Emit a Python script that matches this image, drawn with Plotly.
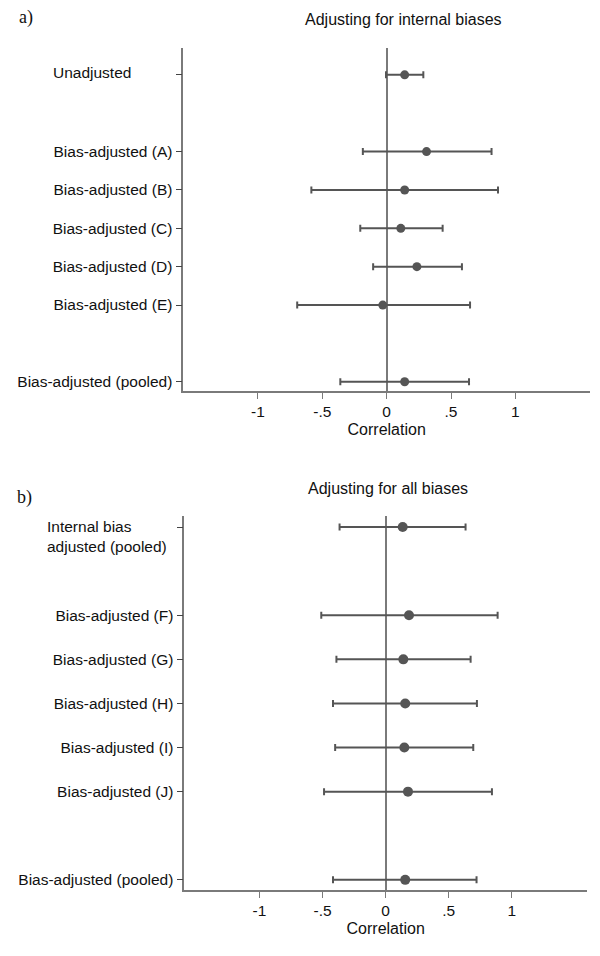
import plotly.graph_objects as go

# ---- data ----
top_labels = ["Unadjusted", "Bias-adjusted (A)", "Bias-adjusted (B)", "Bias-adjusted (C)",
              "Bias-adjusted (D)", "Bias-adjusted (E)", "Bias-adjusted (pooled)"]
top_pos = [0, 2, 3, 4, 5, 6, 8]
top_est = [0.14, 0.31, 0.14, 0.11, 0.235, -0.03, 0.14]
top_lo = [-0.005, -0.185, -0.585, -0.205, -0.105, -0.695, -0.36]
top_hi = [0.285, 0.815, 0.865, 0.435, 0.585, 0.648, 0.64]

bot_labels = ["Internal bias<br>adjusted (pooled)", "Bias-adjusted (F)", "Bias-adjusted (G)",
              "Bias-adjusted (H)", "Bias-adjusted (I)", "Bias-adjusted (J)", "Bias-adjusted (pooled)"]
bot_pos = [0, 2, 3, 4, 5, 6, 8]
bot_est = [0.135, 0.185, 0.14, 0.155, 0.148, 0.177, 0.155]
bot_lo = [-0.365, -0.51, -0.39, -0.417, -0.40, -0.488, -0.417]
bot_hi = [0.633, 0.887, 0.673, 0.723, 0.694, 0.842, 0.72]

x_tickvals = [-1, -0.5, 0, 0.5, 1]
x_ticktext = ["-1", "-.5", "0", ".5", "1"]

FONT = "Liberation Sans, Arial, sans-serif"
SERIF = "Liberation Serif, Times New Roman, serif"
MARK = "#555555"
AXC = "#7a7a7a"

# page body has an 8px margin: figure is drawn at (8, 8)
OFF = 8.0
W = 600.0 - OFF
H = 956.0 - OFF

def px(x):
    return (x - OFF) / W

def py(y):
    return 1 - (y - OFF) / H

fig = go.Figure()

def add_panel(est, lo, hi, pos, xa, ya, msize):
    fig.add_trace(go.Scatter(
        x=est, y=pos, mode="markers", xaxis=xa, yaxis=ya,
        marker=dict(color=MARK, size=msize),
        error_x=dict(type="data", symmetric=False,
                     array=[h - e for h, e in zip(hi, est)],
                     arrayminus=[e - l for e, l in zip(est, lo)],
                     color=MARK, thickness=2, width=3.5),
        showlegend=False, hoverinfo="skip"))

add_panel(top_est, top_lo, top_hi, top_pos, "x", "y", 9)
add_panel(bot_est, bot_lo, bot_hi, bot_pos, "x2", "y2", 10)

def xax(dom, rng, anchor):
    return dict(domain=dom, range=rng, anchor=anchor, tickvals=x_tickvals, ticktext=x_ticktext,
                showgrid=False, zeroline=True, zerolinecolor=AXC, zerolinewidth=1.6,
                showline=True, linecolor=AXC, linewidth=1.6, mirror=False,
                ticks="outside", ticklen=6, tickcolor=AXC, tickwidth=1.2,
                tickfont=dict(family=FONT, size=15.5, color="#111"),
                title=dict(text="Correlation", font=dict(family=FONT, size=16, color="#111"), standoff=4))

def yax(dom, rng, anchor, pos, labels, special):
    txt = ["" if i == special else l for i, l in enumerate(labels)]
    return dict(domain=dom, range=rng, anchor=anchor, tickvals=pos, ticktext=txt,
                showgrid=False, zeroline=False, showline=True, linecolor=AXC, linewidth=1.6,
                ticks="outside", ticklen=6, tickcolor="#444", tickwidth=1.2,
                ticklabelstandoff=0,
                tickfont=dict(family=FONT, size=15.5, color="#111"))

fig.update_layout(
    width=int(W), height=int(H), paper_bgcolor="white", plot_bgcolor="white",
    margin=dict(l=0, r=0, t=0, b=0),
    xaxis=xax([px(183.3), px(590)], [-1.58, 1.58], "y"),
    yaxis=yax([py(391), py(48)], [8.24, -0.7], "x", top_pos, top_labels, 0),
    xaxis2=xax([px(184.3), px(587)], [-1.595, 1.595], "y2"),
    yaxis2=yax([py(890), py(516)], [8.23, -0.25], "x2", bot_pos, bot_labels, 0),
)

ann = [
    dict(text="a)", x=px(17), y=py(18), xref="paper", yref="paper", xanchor="left", yanchor="middle",
         showarrow=False, font=dict(family=SERIF, size=18, color="#111")),
    dict(text="b)", x=px(15), y=py(497), xref="paper", yref="paper", xanchor="left", yanchor="middle",
         showarrow=False, font=dict(family=SERIF, size=18, color="#111")),
    dict(text="Adjusting for internal biases", x=px(403), y=py(20), xref="paper", yref="paper",
         xanchor="center", yanchor="middle", showarrow=False, font=dict(family=FONT, size=16, color="#111")),
    dict(text="Adjusting for all biases", x=px(388), y=py(489), xref="paper", yref="paper",
         xanchor="center", yanchor="middle", showarrow=False, font=dict(family=FONT, size=16, color="#111")),
    dict(text=top_labels[0], x=px(91.5), y=top_pos[0], xref="paper", yref="y",
         xanchor="center", yanchor="middle", yshift=2, showarrow=False,
         font=dict(family=FONT, size=15.5, color="#111")),
    dict(text=bot_labels[0], x=px(45), y=bot_pos[0], xref="paper", yref="y2", align="left",
         xanchor="left", yanchor="middle", yshift=-9, showarrow=False,
         font=dict(family=FONT, size=15.5, color="#111")),
]
fig.update_layout(annotations=ann)

fig.write_html("out.html")
